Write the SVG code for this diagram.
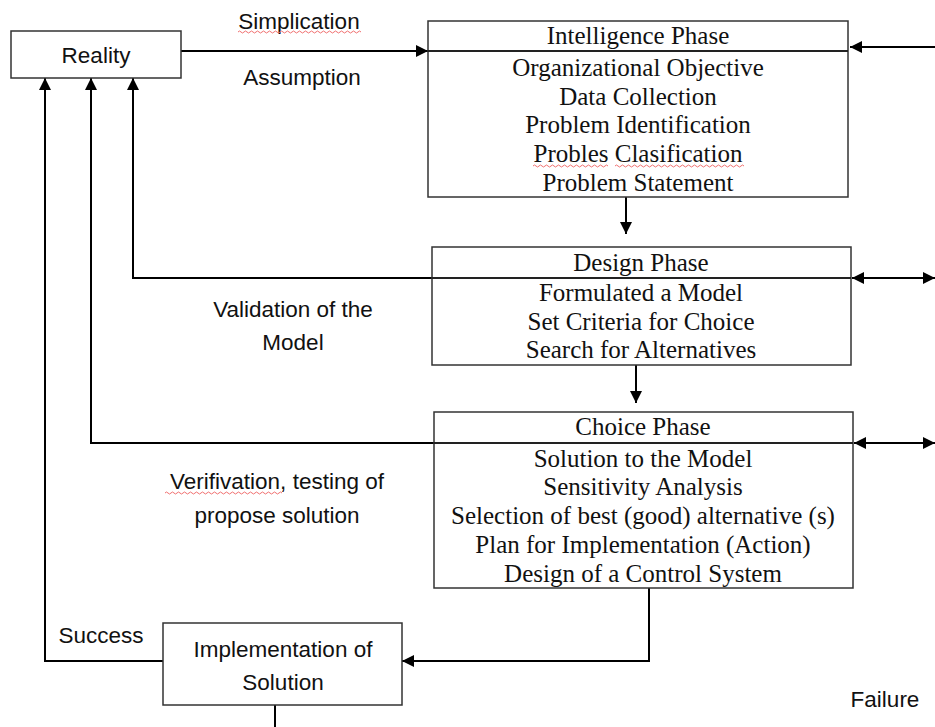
<svg xmlns="http://www.w3.org/2000/svg" width="935" height="727" viewBox="0 0 935 727">
<style>
.box{fill:#fff;stroke:#333;stroke-width:1.5}
.div{stroke:#222;stroke-width:1.8}
.ln{fill:none;stroke:#000;stroke-width:2}
.sans{font-family:"Liberation Sans",Arial,sans-serif;font-size:22.5px;fill:#111;text-anchor:middle}
.serif{font-family:"Liberation Serif","Times New Roman",serif;font-size:25px;fill:#111;text-anchor:middle}
.sq{fill:none;stroke:#f07070;stroke-width:1}
</style>
<defs>
<marker id="ah" markerUnits="userSpaceOnUse" markerWidth="13" markerHeight="12" refX="12" refY="6" orient="auto-start-reverse" viewBox="0 0 13 12">
<path d="M0,0 L12,6 L0,12 z" fill="#000"/>
</marker>
</defs>
<rect width="935" height="727" fill="#fff"/>

<g id="connectors">
<path class="ln" d="M181,51 L428,51" marker-end="url(#ah)"/>
<path class="ln" d="M935,47 L850,47" marker-end="url(#ah)"/>
<path class="ln" d="M626,197 L626,234" marker-end="url(#ah)"/>
<path class="ln" d="M852,278 L935,278" marker-start="url(#ah)" marker-end="url(#ah)"/>
<path class="ln" d="M636,365 L636,403" marker-end="url(#ah)"/>
<path class="ln" d="M854,443 L935,443" marker-start="url(#ah)" marker-end="url(#ah)"/>
<path class="ln" d="M432,278 L133,278 L133,78" marker-end="url(#ah)"/>
<path class="ln" d="M434,443 L91,443 L91,78" marker-end="url(#ah)"/>
<path class="ln" d="M163,661 L45,661 L45,78" marker-end="url(#ah)"/>
<path class="ln" d="M649,588 L649,661 L402,661" marker-end="url(#ah)"/>
<path class="ln" d="M275,705 L275,727"/>
</g>

<g id="reality">
<rect class="box" x="11" y="31" width="170" height="47"/>
<text class="sans" x="96" y="63">Reality</text>
</g>

<g id="labels">
<text class="sans" x="299" y="29">Simplication</text>
<path class="sq" d="M238,32 q1.5,-2 3,0 t3,0 t3,0 t3,0 t3,0 t3,0 t3,0 t3,0 t3,0 t3,0 t3,0 t3,0 t3,0 t3,0 t3,0 t3,0 t3,0 t3,0 t3,0 t3,0 t3,0 t3,0 t3,0 t3,0 t3,0 t3,0 t3,0 t3,0 t3,0 t3,0 t3,0 t3,0 t3,0 t3,0 t3,0 t3,0 t3,0 t3,0 t3,0 t3,0 t3,0"/>
<text class="sans" x="302" y="85">Assumption</text>
<text class="sans" x="293" y="317">Validation of the</text>
<text class="sans" x="293" y="350">Model</text>
<text class="sans" x="277" y="489">Verifivation, testing of</text>
<path class="sq" d="M165,493 q1.5,-2 3,0 t3,0 t3,0 t3,0 t3,0 t3,0 t3,0 t3,0 t3,0 t3,0 t3,0 t3,0 t3,0 t3,0 t3,0 t3,0 t3,0 t3,0 t3,0 t3,0 t3,0 t3,0 t3,0 t3,0 t3,0 t3,0 t3,0 t3,0 t3,0 t3,0 t3,0 t3,0 t3,0 t3,0 t3,0 t3,0 t3,0 t3,0 t3,0"/>
<text class="sans" x="277" y="523">propose solution</text>
<text class="sans" x="101" y="643">Success</text>
<text class="sans" x="885" y="707">Failure</text>
</g>

<g id="intelligence">
<rect class="box" x="428" y="21" width="420" height="176"/>
<line class="div" x1="428" y1="51" x2="848" y2="51"/>
<text class="serif" x="638" y="44">Intelligence Phase</text>
<text class="serif" x="638" y="76">Organizational Objective</text>
<text class="serif" x="638" y="105">Data Collection</text>
<text class="serif" x="638" y="133">Problem Identification</text>
<text class="serif" x="638" y="162">Probles Clasification</text>
<path class="sq" d="M533,166 q1.5,-2 3,0 t3,0 t3,0 t3,0 t3,0 t3,0 t3,0 t3,0 t3,0 t3,0 t3,0 t3,0 t3,0 t3,0 t3,0 t3,0 t3,0 t3,0 t3,0 t3,0 t3,0 t3,0 t3,0 t3,0 t3,0"/>
<path class="sq" d="M615,166 q1.5,-2 3,0 t3,0 t3,0 t3,0 t3,0 t3,0 t3,0 t3,0 t3,0 t3,0 t3,0 t3,0 t3,0 t3,0 t3,0 t3,0 t3,0 t3,0 t3,0 t3,0 t3,0 t3,0 t3,0 t3,0 t3,0 t3,0 t3,0 t3,0 t3,0 t3,0 t3,0 t3,0 t3,0 t3,0 t3,0 t3,0 t3,0 t3,0 t3,0 t3,0 t3,0 t3,0 t3,0"/>
<text class="serif" x="638" y="191">Problem Statement</text>
</g>

<g id="design">
<rect class="box" x="432" y="247" width="419" height="118"/>
<line class="div" x1="432" y1="278" x2="851" y2="278"/>
<text class="serif" x="641" y="271">Design Phase</text>
<text class="serif" x="641" y="301">Formulated a Model</text>
<text class="serif" x="641" y="330">Set Criteria for Choice</text>
<text class="serif" x="641" y="358">Search for Alternatives</text>
</g>

<g id="choice">
<rect class="box" x="434" y="412" width="419" height="176"/>
<line class="div" x1="434" y1="443" x2="853" y2="443"/>
<text class="serif" x="643" y="435">Choice Phase</text>
<text class="serif" x="643" y="467">Solution to the Model</text>
<text class="serif" x="643" y="495">Sensitivity Analysis</text>
<text class="serif" x="643" y="524">Selection of best (good) alternative (s)</text>
<text class="serif" x="643" y="553">Plan for Implementation (Action)</text>
<text class="serif" x="643" y="582">Design of a Control System</text>
</g>

<g id="implementation">
<rect class="box" x="163" y="623" width="239" height="82"/>
<text class="sans" x="283" y="657">Implementation of</text>
<text class="sans" x="283" y="690">Solution</text>
</g>
</svg>
